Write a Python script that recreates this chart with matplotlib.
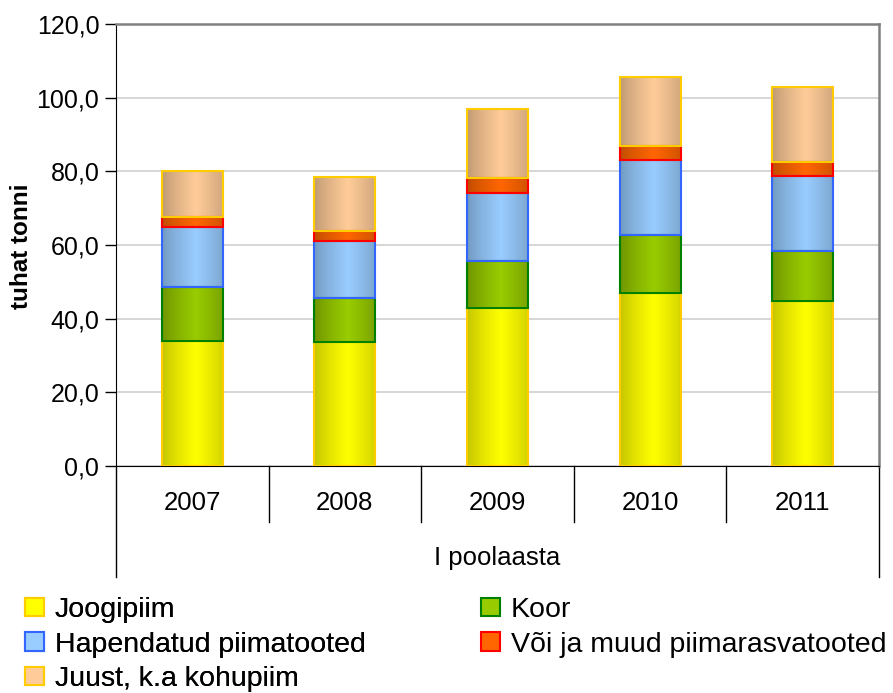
import matplotlib.pyplot as plt
import matplotlib.colors as mcolors
import numpy as np
from matplotlib.patches import Patch
from matplotlib.ticker import FuncFormatter

plt.rcParams['font.family'] = ['Liberation Sans', 'DejaVu Sans']

years = ['2007', '2008', '2009', '2010', '2011']
group_label = 'I poolaasta'

joogipiim = [34.0, 33.6, 42.8, 47.0, 44.8]
koor = [14.6, 11.9, 12.8, 15.8, 13.5]
hapendatud = [16.2, 15.5, 18.4, 20.3, 20.5]
voi = [2.7, 2.7, 4.2, 3.8, 3.8]
juust = [12.6, 14.8, 18.6, 18.7, 20.2]

series_names = ['Joogipiim', 'Koor', 'Hapendatud piimatooted',
                'Või ja muud piimarasvatooted', 'Juust, k.a kohupiim']
series_values = [joogipiim, koor, hapendatud, voi, juust]
# (light centre, dark side, outline)
series_colors = [
    ('#FFFF00', '#C4C400', '#FFCC00'),
    ('#99CC00', '#6E9300', '#008000'),
    ('#99CCFF', '#7299BF', '#3366FF'),
    ('#FF6600', '#BF4C00', '#FF0000'),
    ('#FFCC99', '#BF9972', '#FFCC00'),
]

fig = plt.figure(figsize=(8.93, 6.93), dpi=100)
ax = fig.add_axes([116 / 893, 1 - 466 / 693, (879 - 116) / 893, (466 - 24) / 693])

x = np.arange(len(years))
bottom = np.zeros(len(years))


def gradient(light, dark):
    c1 = np.array(mcolors.to_rgb(dark))
    c2 = np.array(mcolors.to_rgb(light))
    t = np.linspace(0, 1, 64)
    w = 1 - np.abs(t - 0.55) / 0.55
    w = np.clip(w, 0, 1) ** 0.8
    row = c1[None, :] * (1 - w[:, None]) + c2[None, :] * w[:, None]
    return row[None, :, :]


for vals, (light, dark, edge) in zip(series_values, series_colors):
    bars = ax.bar(x, vals, 0.4, bottom=bottom, facecolor='none',
                  edgecolor=edge, linewidth=1.5, zorder=4)
    img = gradient(light, dark)
    for r in bars:
        x0, y0 = r.get_x(), r.get_y()
        ax.imshow(img, extent=[x0, x0 + r.get_width(), y0, y0 + r.get_height()],
                  aspect='auto', zorder=3, interpolation='bilinear')
    bottom = bottom + np.array(vals)

ax.set_xlim(-0.5, len(years) - 0.5)
ax.set_ylim(0, 120)
ax.set_yticks(np.arange(0, 121, 20))
ax.yaxis.set_major_formatter(FuncFormatter(lambda v, p: f'{v:.1f}'.replace('.', ',')))
ax.tick_params(axis='y', labelsize=18, length=8, width=1, direction='out', pad=4)
ax.set_xticks([])
ax.grid(axis='y', color='#D0D0D0', linewidth=1.2, zorder=0)
ax.set_axisbelow(True)

ax.spines['left'].set_color('black')
ax.spines['bottom'].set_color('black')
ax.spines['top'].set_color('#808080')
ax.spines['right'].set_color('#808080')
ax.spines['top'].set_linewidth(1.8)
ax.spines['right'].set_linewidth(1.8)

# category axis: years and group label
tr = ax.get_xaxis_transform()
sep_low = -(522 - 466) / 442
outer_low = -(577 - 466) / 442
for s in np.arange(0.5, len(years) - 1, 1.0):
    ax.plot([s, s], [0, sep_low], color='black', lw=1, transform=tr, clip_on=False)
for s in [-0.5, len(years) - 0.5]:
    ax.plot([s, s], [0, outer_low], color='black', lw=1, transform=tr, clip_on=False)
for xi, yr in zip(x, years):
    ax.text(xi, -(503 - 466) / 442, yr, transform=tr, ha='center', va='center',
            fontsize=18.5)
ax.text((len(years) - 1) / 2, -(558 - 466) / 442, group_label, transform=tr,
        ha='center', va='center', fontsize=18.5)

fig.text(22 / 893, 1 - 246 / 693, 'tuhat tonni', rotation=90, ha='center',
         va='center', fontsize=17.5, fontweight='bold')

handles = [Patch(facecolor=c[0], edgecolor=c[2], linewidth=1.5) for c in series_colors]
leg_kw = dict(frameon=False, fontsize=20.5, handlelength=0.66, handleheight=0.64,
              handletextpad=0.38, labelspacing=0.3, borderpad=0, borderaxespad=0,
              loc='upper left')
leg1 = fig.legend([handles[0], handles[2], handles[4]],
                  [series_names[0], series_names[2], series_names[4]],
                  bbox_to_anchor=(25 / 893, 1 - 597 / 693), **leg_kw)
fig.add_artist(leg1)
fig.legend([handles[1], handles[3]], [series_names[1], series_names[3]],
           bbox_to_anchor=(481 / 893, 1 - 597 / 693), **leg_kw)

fig.savefig('out.png', dpi=100)
